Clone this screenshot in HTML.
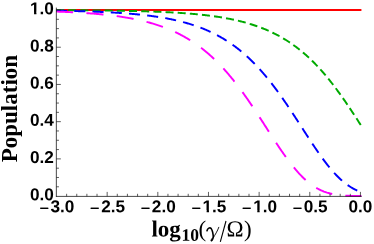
<!DOCTYPE html>
<html><head><meta charset="utf-8"><title>plot</title>
<style>
html,body{margin:0;padding:0;background:#fff;}
body{width:374px;height:244px;overflow:hidden;}
svg{display:block;will-change:transform;}
text{font-family:"Liberation Sans",sans-serif;}
.t{font-weight:bold;font-size:17.2px;fill:#000;}
.s{font-family:"Liberation Serif",serif;}
</style></head><body>
<svg width="374" height="244" viewBox="0 0 374 244">
<rect width="374" height="244" fill="#fff"/>
<clipPath id="c"><rect x="56.4" y="0" width="306" height="199"/></clipPath>
<g fill="none" stroke-width="1.95" stroke-linecap="square" clip-path="url(#c)">
<path d="M56.50 10.00 L360.45 10.00" stroke="#ff0000"/>
<path d="M56.50 10.18 L57.26 10.18 L58.02 10.18 L58.78 10.19 L59.54 10.19 L60.30 10.19 L61.06 10.20 L61.82 10.20 L62.58 10.20 L63.34 10.21 L64.10 10.21 L64.86 10.22 L65.62 10.22 L66.38 10.22 L67.14 10.23 L67.90 10.23 L68.66 10.23 L69.42 10.24 L70.18 10.24 L70.94 10.25 L71.70 10.25 L72.46 10.26 L73.22 10.26 L73.98 10.26 L74.74 10.27 L75.50 10.27 L76.26 10.28 L77.02 10.28 L77.78 10.29 L78.54 10.29 L79.30 10.30 L80.06 10.30 L80.82 10.31 L81.58 10.31 L82.34 10.32 L83.10 10.33 L83.86 10.33 L84.62 10.34 L85.38 10.34 L86.14 10.35 L86.89 10.35 L87.65 10.36 L88.41 10.37 L89.17 10.37 L89.93 10.38 L90.69 10.39 L91.45 10.39 L92.21 10.40 L92.97 10.41 L93.73 10.41 L94.49 10.42 L95.25 10.43 L96.01 10.44 L96.77 10.44 L97.53 10.45 L98.29 10.46 L99.05 10.47 L99.81 10.48 L100.57 10.48 L101.33 10.49 L102.09 10.50 L102.85 10.51 L103.61 10.52 L104.37 10.53 L105.13 10.54 L105.89 10.55 L106.65 10.56 L107.41 10.56 L108.17 10.57 L108.93 10.58 L109.69 10.59 L110.45 10.61 L111.21 10.62 L111.97 10.63 L112.73 10.64 L113.49 10.65 L114.25 10.66 L115.01 10.67 L115.77 10.68 L116.53 10.69 L117.29 10.71 L118.05 10.72 L118.81 10.73 L119.57 10.74 L120.33 10.76 L121.09 10.77 L121.85 10.78 L122.61 10.80 L123.37 10.81 L124.13 10.83 L124.89 10.84 L125.65 10.85 L126.41 10.87 L127.17 10.88 L127.93 10.90 L128.69 10.92 L129.45 10.93 L130.21 10.95 L130.97 10.96 L131.73 10.98 L132.49 11.00 L133.25 11.02 L134.01 11.03 L134.77 11.05 L135.53 11.07 L136.29 11.09 L137.05 11.11 L137.81 11.13 L138.57 11.15 L139.33 11.17 L140.09 11.19 L140.85 11.21 L141.61 11.23 L142.37 11.25 L143.13 11.27 L143.89 11.29 L144.65 11.31 L145.41 11.34 L146.17 11.36 L146.93 11.38 L147.68 11.41 L148.44 11.43 L149.20 11.46 L149.96 11.48 L150.72 11.51 L151.48 11.53 L152.24 11.56 L153.00 11.59 L153.76 11.62 L154.52 11.64 L155.28 11.67 L156.04 11.70 L156.80 11.73 L157.56 11.76 L158.32 11.79 L159.08 11.82 L159.84 11.85 L160.60 11.89 L161.36 11.92 L162.12 11.95 L162.88 11.99 L163.64 12.02 L164.40 12.05 L165.16 12.09 L165.92 12.13 L166.68 12.16 L167.44 12.20 L168.20 12.24 L168.96 12.28 L169.72 12.32 L170.48 12.36 L171.24 12.40 L172.00 12.44 L172.76 12.48 L173.52 12.52 L174.28 12.57 L175.04 12.61 L175.80 12.66 L176.56 12.70 L177.32 12.75 L178.08 12.80 L178.84 12.85 L179.60 12.90 L180.36 12.95 L181.12 13.00 L181.88 13.05 L182.64 13.10 L183.40 13.15 L184.16 13.21 L184.92 13.26 L185.68 13.32 L186.44 13.38 L187.20 13.44 L187.96 13.50 L188.72 13.56 L189.48 13.62 L190.24 13.68 L191.00 13.74 L191.76 13.81 L192.52 13.87 L193.28 13.94 L194.04 14.01 L194.80 14.08 L195.56 14.15 L196.32 14.22 L197.08 14.29 L197.84 14.37 L198.60 14.44 L199.36 14.52 L200.12 14.60 L200.88 14.67 L201.64 14.75 L202.40 14.84 L203.16 14.92 L203.92 15.00 L204.68 15.09 L205.44 15.18 L206.20 15.27 L206.96 15.36 L207.72 15.45 L208.47 15.54 L209.23 15.64 L209.99 15.73 L210.75 15.83 L211.51 15.93 L212.27 16.03 L213.03 16.14 L213.79 16.24 L214.55 16.35 L215.31 16.46 L216.07 16.57 L216.83 16.68 L217.59 16.79 L218.35 16.91 L219.11 17.03 L219.87 17.15 L220.63 17.27 L221.39 17.39 L222.15 17.52 L222.91 17.65 L223.67 17.78 L224.43 17.91 L225.19 18.05 L225.95 18.18 L226.71 18.32 L227.47 18.47 L228.23 18.61 L228.99 18.76 L229.75 18.90 L230.51 19.06 L231.27 19.21 L232.03 19.37 L232.79 19.52 L233.55 19.69 L234.31 19.85 L235.07 20.02 L235.83 20.19 L236.59 20.36 L237.35 20.53 L238.11 20.71 L238.87 20.89 L239.63 21.08 L240.39 21.26 L241.15 21.45 L241.91 21.65 L242.67 21.84 L243.43 22.04 L244.19 22.25 L244.95 22.45 L245.71 22.66 L246.47 22.87 L247.23 23.09 L247.99 23.31 L248.75 23.53 L249.51 23.76 L250.27 23.99 L251.03 24.22 L251.79 24.46 L252.55 24.70 L253.31 24.95 L254.07 25.20 L254.83 25.45 L255.59 25.71 L256.35 25.97 L257.11 26.24 L257.87 26.51 L258.63 26.78 L259.39 27.06 L260.15 27.34 L260.91 27.63 L261.67 27.92 L262.43 28.22 L263.19 28.52 L263.95 28.83 L264.71 29.14 L265.47 29.45 L266.23 29.77 L266.99 30.10 L267.75 30.43 L268.51 30.76 L269.26 31.10 L270.02 31.45 L270.78 31.80 L271.54 32.15 L272.30 32.52 L273.06 32.88 L273.82 33.26 L274.58 33.63 L275.34 34.02 L276.10 34.41 L276.86 34.80 L277.62 35.20 L278.38 35.61 L279.14 36.03 L279.90 36.45 L280.66 36.87 L281.42 37.30 L282.18 37.74 L282.94 38.19 L283.70 38.64 L284.46 39.09 L285.22 39.56 L285.98 40.03 L286.74 40.51 L287.50 40.99 L288.26 41.48 L289.02 41.98 L289.78 42.49 L290.54 43.00 L291.30 43.52 L292.06 44.05 L292.82 44.58 L293.58 45.12 L294.34 45.67 L295.10 46.23 L295.86 46.79 L296.62 47.36 L297.38 47.94 L298.14 48.53 L298.90 49.13 L299.66 49.73 L300.42 50.34 L301.18 50.96 L301.94 51.59 L302.70 52.22 L303.46 52.86 L304.22 53.52 L304.98 54.18 L305.74 54.84 L306.50 55.52 L307.26 56.21 L308.02 56.90 L308.78 57.60 L309.54 58.31 L310.30 59.03 L311.06 59.76 L311.82 60.50 L312.58 61.24 L313.34 62.00 L314.10 62.76 L314.86 63.53 L315.62 64.31 L316.38 65.10 L317.14 65.90 L317.90 66.71 L318.66 67.53 L319.42 68.35 L320.18 69.19 L320.94 70.03 L321.70 70.88 L322.46 71.74 L323.22 72.61 L323.98 73.49 L324.74 74.38 L325.50 75.28 L326.26 76.18 L327.02 77.10 L327.78 78.02 L328.54 78.95 L329.30 79.90 L330.06 80.84 L330.81 81.80 L331.57 82.77 L332.33 83.74 L333.09 84.73 L333.85 85.72 L334.61 86.72 L335.37 87.73 L336.13 88.74 L336.89 89.77 L337.65 90.80 L338.41 91.84 L339.17 92.88 L339.93 93.94 L340.69 95.00 L341.45 96.07 L342.21 97.15 L342.97 98.23 L343.73 99.32 L344.49 100.41 L345.25 101.52 L346.01 102.62 L346.77 103.74 L347.53 104.86 L348.29 105.99 L349.05 107.12 L349.81 108.25 L350.57 109.39 L351.33 110.54 L352.09 111.69 L352.85 112.84 L353.61 114.00 L354.37 115.17 L355.13 116.33 L355.89 117.50 L356.65 118.67 L357.41 119.84 L358.17 121.02 L358.93 122.20 L359.69 123.38 L360.45 124.56" stroke="#00aa00" stroke-dasharray="6.085 6.085" stroke-dashoffset="-0.5"/>
<path d="M56.50 10.70 L57.26 10.71 L58.02 10.73 L58.78 10.74 L59.54 10.75 L60.30 10.77 L61.06 10.78 L61.82 10.79 L62.58 10.81 L63.34 10.82 L64.10 10.83 L64.86 10.85 L65.62 10.86 L66.38 10.88 L67.14 10.89 L67.90 10.91 L68.66 10.93 L69.42 10.94 L70.18 10.96 L70.94 10.97 L71.70 10.99 L72.46 11.01 L73.22 11.03 L73.98 11.04 L74.74 11.06 L75.50 11.08 L76.26 11.10 L77.02 11.12 L77.78 11.14 L78.54 11.16 L79.30 11.18 L80.06 11.20 L80.82 11.22 L81.58 11.24 L82.34 11.26 L83.10 11.28 L83.86 11.31 L84.62 11.33 L85.38 11.35 L86.14 11.37 L86.89 11.40 L87.65 11.42 L88.41 11.45 L89.17 11.47 L89.93 11.50 L90.69 11.52 L91.45 11.55 L92.21 11.58 L92.97 11.60 L93.73 11.63 L94.49 11.66 L95.25 11.69 L96.01 11.72 L96.77 11.75 L97.53 11.78 L98.29 11.81 L99.05 11.84 L99.81 11.87 L100.57 11.91 L101.33 11.94 L102.09 11.97 L102.85 12.01 L103.61 12.04 L104.37 12.08 L105.13 12.11 L105.89 12.15 L106.65 12.19 L107.41 12.22 L108.17 12.26 L108.93 12.30 L109.69 12.34 L110.45 12.38 L111.21 12.42 L111.97 12.47 L112.73 12.51 L113.49 12.55 L114.25 12.60 L115.01 12.64 L115.77 12.69 L116.53 12.73 L117.29 12.78 L118.05 12.83 L118.81 12.88 L119.57 12.93 L120.33 12.98 L121.09 13.03 L121.85 13.08 L122.61 13.13 L123.37 13.19 L124.13 13.24 L124.89 13.30 L125.65 13.36 L126.41 13.41 L127.17 13.47 L127.93 13.53 L128.69 13.59 L129.45 13.66 L130.21 13.72 L130.97 13.78 L131.73 13.85 L132.49 13.91 L133.25 13.98 L134.01 14.05 L134.77 14.12 L135.53 14.19 L136.29 14.26 L137.05 14.34 L137.81 14.41 L138.57 14.49 L139.33 14.56 L140.09 14.64 L140.85 14.72 L141.61 14.80 L142.37 14.89 L143.13 14.97 L143.89 15.06 L144.65 15.14 L145.41 15.23 L146.17 15.32 L146.93 15.41 L147.68 15.50 L148.44 15.60 L149.20 15.70 L149.96 15.79 L150.72 15.89 L151.48 15.99 L152.24 16.10 L153.00 16.20 L153.76 16.31 L154.52 16.41 L155.28 16.52 L156.04 16.64 L156.80 16.75 L157.56 16.86 L158.32 16.98 L159.08 17.10 L159.84 17.22 L160.60 17.35 L161.36 17.47 L162.12 17.60 L162.88 17.73 L163.64 17.86 L164.40 17.99 L165.16 18.13 L165.92 18.27 L166.68 18.41 L167.44 18.55 L168.20 18.70 L168.96 18.85 L169.72 19.00 L170.48 19.15 L171.24 19.30 L172.00 19.46 L172.76 19.62 L173.52 19.79 L174.28 19.95 L175.04 20.12 L175.80 20.29 L176.56 20.46 L177.32 20.64 L178.08 20.82 L178.84 21.00 L179.60 21.19 L180.36 21.38 L181.12 21.57 L181.88 21.77 L182.64 21.96 L183.40 22.17 L184.16 22.37 L184.92 22.58 L185.68 22.79 L186.44 23.00 L187.20 23.22 L187.96 23.44 L188.72 23.67 L189.48 23.90 L190.24 24.13 L191.00 24.37 L191.76 24.61 L192.52 24.85 L193.28 25.10 L194.04 25.35 L194.80 25.61 L195.56 25.87 L196.32 26.13 L197.08 26.40 L197.84 26.67 L198.60 26.95 L199.36 27.23 L200.12 27.52 L200.88 27.81 L201.64 28.10 L202.40 28.40 L203.16 28.70 L203.92 29.01 L204.68 29.33 L205.44 29.64 L206.20 29.97 L206.96 30.30 L207.72 30.63 L208.47 30.97 L209.23 31.31 L209.99 31.66 L210.75 32.01 L211.51 32.37 L212.27 32.74 L213.03 33.11 L213.79 33.48 L214.55 33.87 L215.31 34.25 L216.07 34.65 L216.83 35.05 L217.59 35.45 L218.35 35.86 L219.11 36.28 L219.87 36.70 L220.63 37.13 L221.39 37.57 L222.15 38.01 L222.91 38.46 L223.67 38.91 L224.43 39.37 L225.19 39.84 L225.95 40.32 L226.71 40.80 L227.47 41.29 L228.23 41.78 L228.99 42.29 L229.75 42.80 L230.51 43.31 L231.27 43.84 L232.03 44.37 L232.79 44.91 L233.55 45.45 L234.31 46.01 L235.07 46.57 L235.83 47.14 L236.59 47.71 L237.35 48.30 L238.11 48.89 L238.87 49.49 L239.63 50.10 L240.39 50.71 L241.15 51.34 L241.91 51.97 L242.67 52.61 L243.43 53.26 L244.19 53.91 L244.95 54.58 L245.71 55.25 L246.47 55.93 L247.23 56.62 L247.99 57.32 L248.75 58.03 L249.51 58.75 L250.27 59.47 L251.03 60.21 L251.79 60.95 L252.55 61.70 L253.31 62.46 L254.07 63.23 L254.83 64.00 L255.59 64.79 L256.35 65.59 L257.11 66.39 L257.87 67.20 L258.63 68.03 L259.39 68.86 L260.15 69.70 L260.91 70.55 L261.67 71.40 L262.43 72.27 L263.19 73.15 L263.95 74.03 L264.71 74.92 L265.47 75.83 L266.23 76.74 L266.99 77.66 L267.75 78.59 L268.51 79.52 L269.26 80.47 L270.02 81.42 L270.78 82.39 L271.54 83.36 L272.30 84.34 L273.06 85.33 L273.82 86.32 L274.58 87.33 L275.34 88.34 L276.10 89.36 L276.86 90.39 L277.62 91.43 L278.38 92.47 L279.14 93.52 L279.90 94.58 L280.66 95.65 L281.42 96.72 L282.18 97.80 L282.94 98.89 L283.70 99.98 L284.46 101.08 L285.22 102.19 L285.98 103.30 L286.74 104.42 L287.50 105.54 L288.26 106.67 L289.02 107.80 L289.78 108.94 L290.54 110.09 L291.30 111.23 L292.06 112.39 L292.82 113.54 L293.58 114.71 L294.34 115.87 L295.10 117.04 L295.86 118.21 L296.62 119.38 L297.38 120.55 L298.14 121.73 L298.90 122.91 L299.66 124.09 L300.42 125.27 L301.18 126.45 L301.94 127.64 L302.70 128.82 L303.46 130.00 L304.22 131.18 L304.98 132.36 L305.74 133.54 L306.50 134.72 L307.26 135.89 L308.02 137.06 L308.78 138.23 L309.54 139.40 L310.30 140.56 L311.06 141.72 L311.82 142.87 L312.58 144.02 L313.34 145.16 L314.10 146.30 L314.86 147.43 L315.62 148.55 L316.38 149.67 L317.14 150.78 L317.90 151.88 L318.66 152.97 L319.42 154.06 L320.18 155.13 L320.94 156.20 L321.70 157.26 L322.46 158.30 L323.22 159.34 L323.98 160.36 L324.74 161.37 L325.50 162.37 L326.26 163.36 L327.02 164.34 L327.78 165.30 L328.54 166.25 L329.30 167.19 L330.06 168.11 L330.81 169.02 L331.57 169.91 L332.33 170.79 L333.09 171.66 L333.85 172.51 L334.61 173.34 L335.37 174.16 L336.13 174.96 L336.89 175.75 L337.65 176.52 L338.41 177.27 L339.17 178.01 L339.93 178.73 L340.69 179.43 L341.45 180.12 L342.21 180.78 L342.97 181.44 L343.73 182.07 L344.49 182.69 L345.25 183.29 L346.01 183.87 L346.77 184.44 L347.53 184.99 L348.29 185.52 L349.05 186.04 L349.81 186.54 L350.57 187.02 L351.33 187.48 L352.09 187.93 L352.85 188.36 L353.61 188.78 L354.37 189.18 L355.13 189.57 L355.89 189.94 L356.65 190.29 L357.41 190.63 L358.17 190.96 L358.93 191.27 L359.69 191.57 L360.45 191.85" stroke="#0000ff" stroke-dasharray="9.13 9.13" stroke-dashoffset="-0.5"/>
<path d="M56.50 11.58 L57.26 11.60 L58.02 11.63 L58.78 11.66 L59.54 11.69 L60.30 11.72 L61.06 11.75 L61.82 11.78 L62.58 11.81 L63.34 11.84 L64.10 11.87 L64.86 11.90 L65.62 11.94 L66.38 11.97 L67.14 12.00 L67.90 12.04 L68.66 12.07 L69.42 12.11 L70.18 12.15 L70.94 12.18 L71.70 12.22 L72.46 12.26 L73.22 12.30 L73.98 12.34 L74.74 12.38 L75.50 12.42 L76.26 12.46 L77.02 12.50 L77.78 12.55 L78.54 12.59 L79.30 12.64 L80.06 12.68 L80.82 12.73 L81.58 12.78 L82.34 12.82 L83.10 12.87 L83.86 12.92 L84.62 12.97 L85.38 13.02 L86.14 13.08 L86.89 13.13 L87.65 13.18 L88.41 13.24 L89.17 13.29 L89.93 13.35 L90.69 13.41 L91.45 13.47 L92.21 13.53 L92.97 13.59 L93.73 13.65 L94.49 13.71 L95.25 13.78 L96.01 13.84 L96.77 13.91 L97.53 13.98 L98.29 14.04 L99.05 14.11 L99.81 14.19 L100.57 14.26 L101.33 14.33 L102.09 14.41 L102.85 14.48 L103.61 14.56 L104.37 14.64 L105.13 14.72 L105.89 14.80 L106.65 14.88 L107.41 14.96 L108.17 15.05 L108.93 15.14 L109.69 15.22 L110.45 15.31 L111.21 15.40 L111.97 15.50 L112.73 15.59 L113.49 15.69 L114.25 15.79 L115.01 15.88 L115.77 15.99 L116.53 16.09 L117.29 16.19 L118.05 16.30 L118.81 16.41 L119.57 16.52 L120.33 16.63 L121.09 16.74 L121.85 16.86 L122.61 16.97 L123.37 17.09 L124.13 17.21 L124.89 17.34 L125.65 17.46 L126.41 17.59 L127.17 17.72 L127.93 17.85 L128.69 17.98 L129.45 18.12 L130.21 18.26 L130.97 18.40 L131.73 18.54 L132.49 18.69 L133.25 18.83 L134.01 18.98 L134.77 19.14 L135.53 19.29 L136.29 19.45 L137.05 19.61 L137.81 19.77 L138.57 19.94 L139.33 20.11 L140.09 20.28 L140.85 20.45 L141.61 20.63 L142.37 20.81 L143.13 20.99 L143.89 21.18 L144.65 21.36 L145.41 21.56 L146.17 21.75 L146.93 21.95 L147.68 22.15 L148.44 22.35 L149.20 22.56 L149.96 22.77 L150.72 22.99 L151.48 23.21 L152.24 23.43 L153.00 23.65 L153.76 23.88 L154.52 24.11 L155.28 24.35 L156.04 24.59 L156.80 24.83 L157.56 25.08 L158.32 25.33 L159.08 25.59 L159.84 25.85 L160.60 26.11 L161.36 26.38 L162.12 26.65 L162.88 26.93 L163.64 27.21 L164.40 27.49 L165.16 27.78 L165.92 28.08 L166.68 28.38 L167.44 28.68 L168.20 28.99 L168.96 29.30 L169.72 29.62 L170.48 29.94 L171.24 30.27 L172.00 30.60 L172.76 30.94 L173.52 31.28 L174.28 31.63 L175.04 31.99 L175.80 32.35 L176.56 32.71 L177.32 33.08 L178.08 33.46 L178.84 33.84 L179.60 34.22 L180.36 34.62 L181.12 35.01 L181.88 35.42 L182.64 35.83 L183.40 36.25 L184.16 36.67 L184.92 37.10 L185.68 37.53 L186.44 37.98 L187.20 38.42 L187.96 38.88 L188.72 39.34 L189.48 39.81 L190.24 40.28 L191.00 40.76 L191.76 41.25 L192.52 41.75 L193.28 42.25 L194.04 42.76 L194.80 43.27 L195.56 43.80 L196.32 44.33 L197.08 44.87 L197.84 45.41 L198.60 45.96 L199.36 46.52 L200.12 47.09 L200.88 47.67 L201.64 48.25 L202.40 48.84 L203.16 49.44 L203.92 50.05 L204.68 50.67 L205.44 51.29 L206.20 51.92 L206.96 52.56 L207.72 53.21 L208.47 53.86 L209.23 54.53 L209.99 55.20 L210.75 55.88 L211.51 56.57 L212.27 57.27 L213.03 57.98 L213.79 58.69 L214.55 59.42 L215.31 60.15 L216.07 60.89 L216.83 61.64 L217.59 62.40 L218.35 63.17 L219.11 63.95 L219.87 64.73 L220.63 65.53 L221.39 66.33 L222.15 67.14 L222.91 67.96 L223.67 68.79 L224.43 69.63 L225.19 70.48 L225.95 71.34 L226.71 72.20 L227.47 73.08 L228.23 73.96 L228.99 74.85 L229.75 75.76 L230.51 76.67 L231.27 77.59 L232.03 78.51 L232.79 79.45 L233.55 80.40 L234.31 81.35 L235.07 82.31 L235.83 83.28 L236.59 84.26 L237.35 85.25 L238.11 86.25 L238.87 87.25 L239.63 88.26 L240.39 89.28 L241.15 90.31 L241.91 91.35 L242.67 92.39 L243.43 93.44 L244.19 94.50 L244.95 95.56 L245.71 96.64 L246.47 97.72 L247.23 98.80 L247.99 99.90 L248.75 101.00 L249.51 102.10 L250.27 103.21 L251.03 104.33 L251.79 105.45 L252.55 106.58 L253.31 107.72 L254.07 108.85 L254.83 110.00 L255.59 111.15 L256.35 112.30 L257.11 113.46 L257.87 114.62 L258.63 115.78 L259.39 116.95 L260.15 118.12 L260.91 119.29 L261.67 120.47 L262.43 121.64 L263.19 122.82 L263.95 124.00 L264.71 125.18 L265.47 126.36 L266.23 127.55 L266.99 128.73 L267.75 129.91 L268.51 131.09 L269.26 132.27 L270.02 133.45 L270.78 134.63 L271.54 135.80 L272.30 136.97 L273.06 138.14 L273.82 139.31 L274.58 140.47 L275.34 141.63 L276.10 142.78 L276.86 143.93 L277.62 145.07 L278.38 146.21 L279.14 147.34 L279.90 148.47 L280.66 149.58 L281.42 150.69 L282.18 151.80 L282.94 152.89 L283.70 153.98 L284.46 155.05 L285.22 156.12 L285.98 157.18 L286.74 158.22 L287.50 159.26 L288.26 160.28 L289.02 161.30 L289.78 162.30 L290.54 163.29 L291.30 164.26 L292.06 165.23 L292.82 166.18 L293.58 167.12 L294.34 168.04 L295.10 168.95 L295.86 169.85 L296.62 170.73 L297.38 171.59 L298.14 172.44 L298.90 173.28 L299.66 174.10 L300.42 174.90 L301.18 175.69 L301.94 176.46 L302.70 177.21 L303.46 177.95 L304.22 178.67 L304.98 179.38 L305.74 180.06 L306.50 180.73 L307.26 181.39 L308.02 182.02 L308.78 182.64 L309.54 183.24 L310.30 183.83 L311.06 184.40 L311.82 184.95 L312.58 185.48 L313.34 186.00 L314.10 186.50 L314.86 186.98 L315.62 187.45 L316.38 187.90 L317.14 188.33 L317.90 188.75 L318.66 189.15 L319.42 189.54 L320.18 189.91 L320.94 190.27 L321.70 190.61 L322.46 190.94 L323.22 191.25 L323.98 191.55 L324.74 191.83 L325.50 192.10 L326.26 192.36 L327.02 192.61 L327.78 192.84 L328.54 193.06 L329.30 193.27 L330.06 193.47 L330.81 193.66 L331.57 193.84 L332.33 194.00 L333.09 194.16 L333.85 194.31 L334.61 194.45 L335.37 194.58 L336.13 194.70 L336.89 194.82 L337.65 194.92 L338.41 195.02 L339.17 195.11 L339.93 195.20 L340.69 195.28 L341.45 195.35 L342.21 195.42 L342.97 195.49 L343.73 195.54 L344.49 195.60 L345.25 195.65 L346.01 195.69 L346.77 195.73 L347.53 195.77 L348.29 195.81 L349.05 195.84 L349.81 195.87 L350.57 195.89 L351.33 195.91 L352.09 195.94 L352.85 195.95 L353.61 195.97 L354.37 195.99 L355.13 196.00 L355.89 196.01 L356.65 196.02 L357.41 196.03 L358.17 196.04 L358.93 196.05 L359.69 196.06 L360.45 196.06" stroke="#ff00ff" stroke-dasharray="15.21 15.21" stroke-dashoffset="-0.5"/>
</g>
<g stroke="#1a1a1a" stroke-width="0.8" fill="none">
<path d="M56.35 7.60 L56.35 196.80"/>
<path d="M55.95 196.40 L361.65 196.40"/>
<path d="M66.63 196.40 v-2.60 M76.76 196.40 v-2.60 M86.89 196.40 v-2.60 M97.03 196.40 v-2.60 M107.16 196.40 v-4.50 M117.29 196.40 v-2.60 M127.42 196.40 v-2.60 M137.55 196.40 v-2.60 M147.68 196.40 v-2.60 M157.82 196.40 v-4.50 M167.95 196.40 v-2.60 M178.08 196.40 v-2.60 M188.21 196.40 v-2.60 M198.34 196.40 v-2.60 M208.47 196.40 v-4.50 M218.61 196.40 v-2.60 M228.74 196.40 v-2.60 M238.87 196.40 v-2.60 M249.00 196.40 v-2.60 M259.13 196.40 v-4.50 M269.26 196.40 v-2.60 M279.40 196.40 v-2.60 M289.53 196.40 v-2.60 M299.66 196.40 v-2.60 M309.79 196.40 v-4.50 M319.92 196.40 v-2.60 M330.06 196.40 v-2.60 M340.19 196.40 v-2.60 M350.32 196.40 v-2.60 M360.45 196.40 v-4.50 M56.35 186.79 h2.60 M56.35 177.49 h2.60 M56.35 168.19 h2.60 M56.35 158.88 h4.50 M56.35 149.57 h2.60 M56.35 140.27 h2.60 M56.35 130.96 h2.60 M56.35 121.66 h4.50 M56.35 112.35 h2.60 M56.35 103.05 h2.60 M56.35 93.74 h2.60 M56.35 84.44 h4.50 M56.35 75.13 h2.60 M56.35 65.83 h2.60 M56.35 56.53 h2.60 M56.35 47.22 h4.50 M56.35 37.91 h2.60 M56.35 28.61 h2.60 M56.35 19.30 h2.60 M56.35 10.00 h4.50" stroke-width="0.7"/>
</g>
<text class="t" transform="translate(53.90 200.30) rotate(0.05)" text-anchor="end">0.0</text>
<text class="t" transform="translate(53.90 163.08) rotate(0.05)" text-anchor="end">0.2</text>
<text class="t" transform="translate(53.90 125.86) rotate(0.05)" text-anchor="end">0.4</text>
<text class="t" transform="translate(53.90 88.64) rotate(0.05)" text-anchor="end">0.6</text>
<text class="t" transform="translate(53.90 51.42) rotate(0.05)" text-anchor="end">0.8</text>
<text class="t" transform="translate(53.90 14.20) rotate(0.05)" text-anchor="end">1.0</text>
<text class="t" transform="translate(62.45 212.30) rotate(0.05)" text-anchor="middle">3.0</text>
<text transform="translate(39.43 213.85) rotate(0.05)" font-size="16.2px" stroke="#000" stroke-width="0.25">−</text>
<text class="t" transform="translate(113.11 212.30) rotate(0.05)" text-anchor="middle">2.5</text>
<text transform="translate(90.08 213.85) rotate(0.05)" font-size="16.2px" stroke="#000" stroke-width="0.25">−</text>
<text class="t" transform="translate(163.77 212.30) rotate(0.05)" text-anchor="middle">2.0</text>
<text transform="translate(140.74 213.85) rotate(0.05)" font-size="16.2px" stroke="#000" stroke-width="0.25">−</text>
<text class="t" transform="translate(214.42 212.30) rotate(0.05)" text-anchor="middle">1.5</text>
<text transform="translate(191.40 213.85) rotate(0.05)" font-size="16.2px" stroke="#000" stroke-width="0.25">−</text>
<text class="t" transform="translate(265.08 212.30) rotate(0.05)" text-anchor="middle">1.0</text>
<text transform="translate(242.06 213.85) rotate(0.05)" font-size="16.2px" stroke="#000" stroke-width="0.25">−</text>
<text class="t" transform="translate(315.74 212.30) rotate(0.05)" text-anchor="middle">0.5</text>
<text transform="translate(292.72 213.85) rotate(0.05)" font-size="16.2px" stroke="#000" stroke-width="0.25">−</text>
<text class="t" transform="translate(360.45 212.30) rotate(0.05)" text-anchor="middle">0.0</text>
<path d="M30.46 11.80 H34.06 V15.20 H30.46 Z M36.42 11.80 H39.72 V15.20 H36.42 Z" fill="#fff"/>
<path d="M203.02 209.90 H206.62 V213.30 H203.02 Z M208.98 209.90 H212.28 V213.30 H208.98 Z" fill="#fff"/>
<path d="M253.68 209.90 H257.28 V213.30 H253.68 Z M259.64 209.90 H262.94 V213.30 H259.64 Z" fill="#fff"/>
<text class="s" transform="translate(16.8 108.60) rotate(-90)" text-anchor="middle" font-weight="bold" font-size="23px">Population</text>
<text class="s" transform="translate(151.40 236.5) rotate(0.05)" font-size="23px" font-weight="bold">log<tspan font-size="17.5px" dx="0.8" dy="4.3">10</tspan></text>
<text class="s" transform="translate(198.40 236.5) rotate(0.05)" font-size="23px">(</text>
<text class="s" transform="translate(226.50 236.5) rotate(0.05)" font-size="23px">Ω</text>
<text class="s" transform="translate(244.10 236.5) rotate(0.05)" font-size="23px">)</text>
<path d="M220.3 241.8 L226.0 221.0" stroke="#000" stroke-width="1.1" fill="none"/>
<g stroke="#000" fill="none" stroke-linecap="round"><path d="M207.0 230.8 C207.6 228.2 209.8 226.9 211.2 228.6 C212.6 230.6 213.2 234.5 213.3 237.6" stroke-width="1.6"/><path d="M218.8 227.3 C217.5 231 215 235 213.3 237.6" stroke-width="0.9"/><path d="M213.6 237 C213.4 239.5 212.5 241.3 211.4 241.3 C210.3 241.3 210.6 239.5 212.6 237.8 Z" fill="#000" stroke-width="0.5"/></g>
</svg>
</body></html>
